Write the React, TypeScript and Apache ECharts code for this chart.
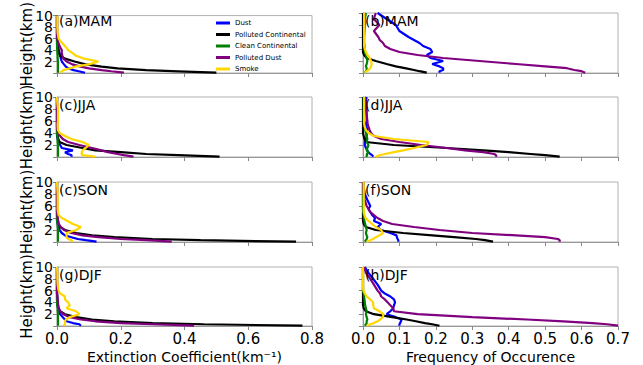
import React, { useEffect, useRef } from "react";
import * as echarts from "echarts";

const HEIGHTS = [0.05, 0.3, 0.5, 0.8, 1.1, 1.5, 2, 2.5, 3, 3.5, 4, 4.5, 5, 5.5, 6, 7, 8, 9, 10];

const TYPES = ["Dust", "Polluted Continental", "Clean Continental", "Polluted Dust", "Smoke"];
const COLORS = ["#0000ff", "#000000", "#008000", "#800080", "#ffd700"];

// Extinction coefficient (km^-1), order: dust, polluted continental, clean continental, polluted dust, smoke
const EXT_MAM = [
  [0.088, 0.068, 0.052, 0.036, 0.028, 0.022, 0.015, 0.012, 0.01, 0.008, 0.006, 0.004, 0.002, 0.001, 0, 0, 0, 0, 0],
  [0.5, 0.38, 0.28, 0.19, 0.14, 0.09, 0.055, 0.025, 0.01, 0.005, 0.003, 0.002, 0.001, 0, 0, 0, 0, 0, 0],
  [0.003, 0.003, 0.003, 0.003, 0.003, 0.003, 0.003, 0.002, 0.002, 0.001, 0.001, 0, 0, 0, 0, 0, 0, 0, 0],
  [0.21, 0.17, 0.14, 0.1, 0.075, 0.048, 0.03, 0.02, 0.017, 0.015, 0.015, 0.01, 0.006, 0.003, 0.001, 0, 0, 0, 0],
  [0.01, 0.015, 0.02, 0.04, 0.056, 0.1, 0.13, 0.085, 0.06, 0.048, 0.035, 0.028, 0.02, 0.012, 0.005, 0.002, 0.001, 0.001, 0.001],
];
const EXT_JJA = [
  [0.045, 0.046, 0.035, 0.025, 0.05, 0.015, 0.01, 0.004, 0.002, 0, 0, 0, 0, 0, 0, 0, 0, 0, 0],
  [0.51, 0.38, 0.28, 0.2, 0.12, 0.08, 0.03, 0.008, 0.004, 0.002, 0.001, 0, 0, 0, 0, 0, 0, 0, 0],
  [0.003, 0.003, 0.003, 0.003, 0.003, 0.003, 0.003, 0.002, 0.002, 0.001, 0, 0, 0, 0, 0, 0, 0, 0, 0],
  [0.24, 0.21, 0.19, 0.16, 0.14, 0.11, 0.07, 0.035, 0.018, 0.01, 0.004, 0.001, 0, 0, 0, 0, 0, 0, 0],
  [0.12, 0.08, 0.077, 0.078, 0.08, 0.09, 0.1, 0.08, 0.045, 0.025, 0.008, 0.003, 0.002, 0.002, 0.003, 0.003, 0.003, 0.001, 0],
];
const EXT_SON = [
  [0.124, 0.09, 0.065, 0.045, 0.025, 0.015, 0.008, 0.004, 0.002, 0, 0, 0, 0, 0, 0, 0, 0, 0, 0],
  [0.75, 0.45, 0.3, 0.18, 0.11, 0.06, 0.025, 0.01, 0.004, 0.002, 0.001, 0, 0, 0, 0, 0, 0, 0, 0],
  [0.003, 0.003, 0.003, 0.003, 0.003, 0.003, 0.003, 0.002, 0.002, 0, 0, 0, 0, 0, 0, 0, 0, 0, 0],
  [0.36, 0.28, 0.2, 0.13, 0.08, 0.045, 0.022, 0.012, 0.006, 0.004, 0.002, 0.001, 0, 0, 0, 0, 0, 0, 0],
  [0.05, 0.045, 0.035, 0.03, 0.03, 0.03, 0.06, 0.075, 0.05, 0.033, 0.015, 0.005, 0.003, 0.002, 0.002, 0.002, 0.002, 0.001, 0],
];
const EXT_DJF = [
  [0.075, 0.07, 0.05, 0.03, 0.025, 0.018, 0.01, 0.005, 0.003, 0.002, 0.002, 0.001, 0.001, 0, 0, 0, 0, 0, 0],
  [0.77, 0.46, 0.3, 0.18, 0.11, 0.06, 0.025, 0.01, 0.004, 0.002, 0.001, 0, 0, 0, 0, 0, 0, 0, 0],
  [0.003, 0.003, 0.003, 0.003, 0.003, 0.003, 0.003, 0.002, 0.002, 0.001, 0, 0, 0, 0, 0, 0, 0, 0, 0],
  [0.43, 0.3, 0.2, 0.12, 0.075, 0.04, 0.02, 0.01, 0.006, 0.004, 0.003, 0.002, 0.001, 0, 0, 0, 0, 0, 0],
  [0.02, 0.025, 0.025, 0.025, 0.028, 0.04, 0.07, 0.06, 0.03, 0.04, 0.035, 0.025, 0.025, 0.01, 0.005, 0.002, 0.001, 0.001, 0],
];

// Frequency of occurrence
const FREQ_MAM = [
  [0.21, 0.21, 0.22, 0.22, 0.21, 0.19, 0.22, 0.185, 0.175, 0.19, 0.185, 0.165, 0.155, 0.14, 0.125, 0.1, 0.09, 0.065, 0.04],
  [0.175, 0.155, 0.14, 0.115, 0.09, 0.065, 0.035, 0.01, 0.003, 0, 0, 0, 0, 0, 0, 0, 0, 0, 0],
  [0.005, 0.008, 0.01, 0.01, 0.008, 0.01, 0.012, 0.01, 0.008, 0.005, 0.004, 0.004, 0.003, 0.003, 0.003, 0.004, 0.005, 0.005, 0.008],
  [0.61, 0.6, 0.58, 0.56, 0.5, 0.42, 0.32, 0.22, 0.15, 0.1, 0.075, 0.06, 0.055, 0.046, 0.042, 0.03, 0.045, 0.03, 0.035],
  [0.005, 0.01, 0.015, 0.02, 0.022, 0.024, 0.022, 0.018, 0.012, 0.008, 0.005, 0.003, 0.003, 0.003, 0.003, 0.003, 0.003, 0.003, 0.003],
];
const FREQ_JJA = [
  [0.028, 0.025, 0.02, 0.015, 0.012, 0.008, 0.005, 0.005, 0.008, 0.01, 0.01, 0.012, 0.01, 0.008, 0.01, 0.01, 0.008, 0.007, 0.01],
  [0.54, 0.5, 0.46, 0.4, 0.33, 0.23, 0.085, 0.008, 0.004, 0.002, 0, 0, 0, 0, 0, 0, 0, 0, 0],
  [0.008, 0.012, 0.01, 0.015, 0.01, 0.012, 0.015, 0.01, 0.012, 0.01, 0.008, 0.006, 0.005, 0.003, 0.002, 0.002, 0.002, 0.002, 0.002],
  [0.367, 0.365, 0.36, 0.33, 0.28, 0.23, 0.16, 0.1, 0.05, 0.03, 0.022, 0.018, 0.015, 0.013, 0.012, 0.01, 0.01, 0.008, 0.005],
  [0.035, 0.045, 0.06, 0.085, 0.11, 0.14, 0.175, 0.18, 0.085, 0.03, 0.015, 0.008, 0.005, 0.003, 0.003, 0.003, 0.003, 0.003, 0.003],
];
const FREQ_SON = [
  [0.097, 0.097, 0.095, 0.093, 0.092, 0.075, 0.05, 0.04, 0.05, 0.03, 0.033, 0.025, 0.02, 0.015, 0.02, 0.012, 0.005, 0.002, 0.002],
  [0.357, 0.335, 0.31, 0.25, 0.19, 0.11, 0.035, 0.008, 0.002, 0, 0, 0, 0, 0, 0, 0, 0, 0, 0],
  [0.005, 0.008, 0.01, 0.012, 0.01, 0.008, 0.01, 0.008, 0.006, 0.004, 0.003, 0.002, 0.001, 0, 0, 0, 0, 0, 0],
  [0.54, 0.54, 0.535, 0.5, 0.42, 0.3, 0.21, 0.14, 0.08, 0.055, 0.04, 0.03, 0.02, 0.015, 0.01, 0.005, 0.002, 0.001, 0.001],
  [0.01, 0.02, 0.028, 0.035, 0.045, 0.055, 0.05, 0.035, 0.025, 0.015, 0.007, 0.004, 0.002, 0.002, 0.002, 0.002, 0.002, 0.002, 0.002],
];
const FREQ_DJF = [
  [0.1, 0.1, 0.102, 0.104, 0.106, 0.09, 0.065, 0.075, 0.083, 0.085, 0.088, 0.085, 0.075, 0.06, 0.05, 0.04, 0.028, 0.015, 0.005],
  [0.21, 0.19, 0.17, 0.145, 0.12, 0.08, 0.03, 0.008, 0.002, 0, 0, 0, 0, 0, 0, 0, 0, 0, 0],
  [0.005, 0.008, 0.01, 0.01, 0.012, 0.01, 0.008, 0.01, 0.008, 0.006, 0.005, 0.004, 0.003, 0.002, 0, 0, 0, 0, 0],
  [0.7, 0.67, 0.63, 0.55, 0.45, 0.3, 0.15, 0.085, 0.083, 0.075, 0.068, 0.06, 0.05, 0.047, 0.04, 0.03, 0.02, 0.008, 0.003],
  [0.01, 0.02, 0.03, 0.04, 0.047, 0.055, 0.056, 0.045, 0.03, 0.028, 0.028, 0.02, 0.01, 0.005, 0.001, 0, 0, 0, 0],
];

const LEFT_PANELS = [EXT_MAM, EXT_JJA, EXT_SON, EXT_DJF];
const RIGHT_PANELS = [FREQ_MAM, FREQ_JJA, FREQ_SON, FREQ_DJF];
const LEFT_TITLES = ["(a)MAM", "(c)JJA", "(c)SON", "(g)DJF"];
const RIGHT_TITLES = ["(b)MAM", "(d)JJA", "(f)SON", "(h)DJF"];
// height tick labels; the "8" label is put on an overlaid twin axis so that
// ECharts' min/max overlap logic does not drop it (the labels overlap in the reference)
const Y_LABELS_MAIN = [2, 4, 6, 10];
const Y_LABELS_TWIN = [8];

const FONT = "DejaVu Sans";
const ROW_TOPS = [13, 97, 182, 267];
const ROW_H = 60;
const COL_LEFTS = [57, 363];
const COL_W = 255;

export default function App() {
  const ref = useRef<HTMLDivElement>(null);

  useEffect(() => {
    if (!ref.current) return;
    const chart = echarts.init(ref.current, undefined, { renderer: "svg" });

    const grids: any[] = [];
    const xAxes: any[] = [];
    const yAxes: any[] = [];
    const series: any[] = [];
    const titles: any[] = [];

    const yLabelStyle = (list: number[]) => ({
      color: "#000",
      fontFamily: FONT,
      fontSize: 14,
      margin: 4,
      showMinLabel: true,
      showMaxLabel: true,
      formatter: (v: number) => (list.indexOf(v) >= 0 ? String(v) : ""),
    });

    let idx = 0;
    for (let r = 0; r < 4; r++) {
      for (let c = 0; c < 2; c++) {
        const isLeft = c === 0;
        const isBottom = r === 3;
        grids.push({
          left: COL_LEFTS[c],
          top: ROW_TOPS[r],
          width: COL_W,
          height: ROW_H,
          show: true,
          borderColor: "#b0b0b0",
          borderWidth: 1,
          containLabel: false,
        });
        xAxes.push({
          type: "value",
          gridIndex: idx,
          min: 0,
          max: isLeft ? 0.8 : 0.7,
          interval: isLeft ? 0.2 : 0.1,
          splitLine: { show: false },
          axisLine: { show: true, onZero: false, lineStyle: { color: "#999", width: 1 } },
          axisTick: { show: true, inside: false, length: 4, lineStyle: { color: "#888" } },
          axisLabel: {
            show: isBottom,
            fontSize: 15,
            color: "#000",
            fontFamily: FONT,
            margin: 5,
            showMaxLabel: true,
            formatter: (v: number) => v.toFixed(1),
          },
          name: isBottom ? (isLeft ? "Extinction Coefficient(km\u207B\u00B9)" : "Frequency of Occurence") : "",
          nameLocation: "middle",
          nameGap: 24,
          nameTextStyle: { fontSize: 14, color: "#000", fontFamily: FONT },
        });
        const mainY = yAxes.length;
        yAxes.push({
          type: "value",
          gridIndex: idx,
          position: "left",
          min: 0,
          max: 10,
          interval: 2,
          splitLine: { show: false },
          axisLine: { show: true, onZero: false, lineStyle: { color: "#999", width: 1 } },
          axisTick: { show: true, inside: false, length: 4, lineStyle: { color: "#888" } },
          axisLabel: { show: isLeft, ...yLabelStyle(Y_LABELS_MAIN) },
          name: isLeft ? "Height(km)" : "",
          nameLocation: "middle",
          nameGap: 23,
          nameRotate: 90,
          nameMoveOverlap: false,
          nameTextStyle: { fontSize: 15, color: "#000", fontFamily: FONT },
        });
        if (isLeft) {
          yAxes.push({
            type: "value",
            gridIndex: idx,
            position: "left",
            offset: 0,
            min: 0,
            max: 10,
            interval: 2,
            splitLine: { show: false },
            axisLine: { show: false },
            axisTick: { show: false },
            axisLabel: { show: true, ...yLabelStyle(Y_LABELS_TWIN) },
          });
        }
        titles.push({
          text: isLeft ? LEFT_TITLES[r] : RIGHT_TITLES[r],
          left: COL_LEFTS[c] + 2,
          top: ROW_TOPS[r] + 1,
          padding: 0,
          textStyle: { fontSize: 14, fontWeight: "normal", color: "#000", fontFamily: FONT },
        });
        const panel = isLeft ? LEFT_PANELS[r] : RIGHT_PANELS[r];
        panel.forEach((vals, k) => {
          series.push({
            type: "line",
            name: TYPES[k],
            xAxisIndex: idx,
            yAxisIndex: mainY,
            showSymbol: false,
            symbol: "none",
            lineStyle: { color: COLORS[k], width: 2.2 },
            itemStyle: { color: COLORS[k] },
            data: vals.map((v, i) => [v, HEIGHTS[i]]),
            z: 2 + k,
          });
        });
        idx++;
      }
    }

    chart.setOption({
      animation: false,
      backgroundColor: "#ffffff",
      title: titles,
      legend: {
        data: TYPES,
        orient: "vertical",
        left: 216,
        top: 19,
        itemWidth: 14,
        itemHeight: 3,
        itemGap: 3.5,
        padding: 0,
        icon: "rect",
        textStyle: { fontSize: 7, color: "#000", fontFamily: FONT, lineHeight: 8 },
      },
      grid: grids,
      xAxis: xAxes,
      yAxis: yAxes,
      series,
    });

    return () => chart.dispose();
  }, []);

  return (
    <div
      ref={ref}
      style={{ position: "fixed", left: 0, top: 0, width: 643, height: 365, background: "#fff" }}
    />
  );
}
